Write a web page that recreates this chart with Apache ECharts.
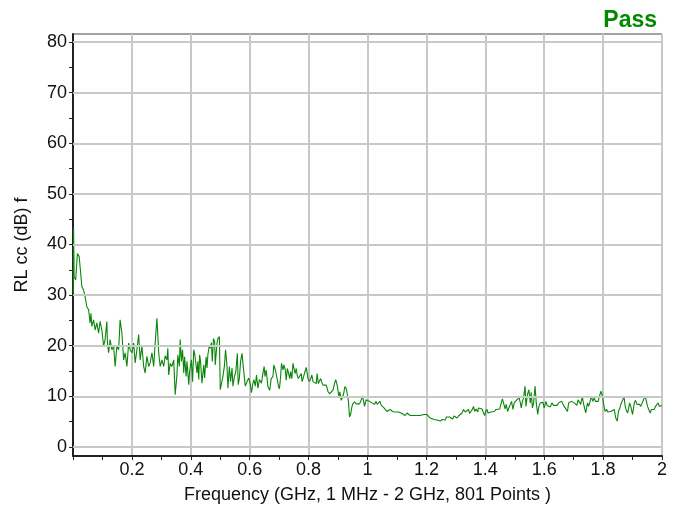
<!DOCTYPE html>
<html>
<head>
<meta charset="utf-8">
<script src="https://cdn.jsdelivr.net/npm/echarts@6/dist/echarts.min.js"></script>
<style>
  html, body { margin: 0; padding: 0; background: #fff; }
  #chart { width: 684px; height: 517px; }
</style>
</head>
<body>
<div id="chart"></div>
<script>
// Return-loss trace (frequency in GHz, RL in dB), in segments
const freqA = [
  0.001,0.002,0.004,0.009,0.015,0.021,0.025,0.030,0.036,0.041,
  0.047,0.053,0.058,0.061,0.064,0.070,0.075,0.081,0.087,0.092,
  0.098,0.104,0.109,0.115,0.117,0.121,0.126,0.132,0.138,0.143,
  0.149,0.155,0.160,0.166,0.172,0.177,0.183,0.189,0.194,0.200,
  0.206,0.211,0.217,0.223,0.228,0.234,0.240,0.245,0.251,0.257,
  0.262,0.268,0.274,0.279,0.285,0.291,0.296,0.302,0.308,0.313
];
const rlA = [
  30.4,43.1,33.6,33.0,38.2,37.6,35.0,31.7,31.0,29.7,
  27.7,27.1,24.5,26.4,23.8,25.1,23.1,24.5,22.5,24.8,
  23.1,19.9,21.2,24.8,20.5,18.6,21.2,19.2,19.9,15.9,
  19.9,19.2,25.1,22.5,17.2,18.6,15.9,20.5,19.2,18.6,
  20.5,16.6,19.2,22.2,17.2,19.9,15.9,14.6,17.9,15.9,
  16.6,18.6,15.9,20.5,25.4,18.6,15.9,17.2,15.9,18.0
];
const freqB = [
  0.319,0.322,0.325,0.330,0.336,0.342,0.347,0.353,0.356,0.361,
  0.364,0.368,0.372,0.376,0.379,0.384,0.387,0.393,0.396,0.402,
  0.406,0.410,0.413,0.418,0.421,0.424,0.427,0.430,0.433,0.438,
  0.444,0.447,0.452,0.455,0.458,0.463,0.466,0.470,0.473,0.477,
  0.481,0.483,0.489,0.492,0.497,0.500,0.506,0.509,0.514,0.518,
  0.523,0.526,0.531,0.535,0.540,0.543,0.548,0.553,0.558,0.561,
  0.565,0.569,0.574,0.577,0.581,0.585,0.591,0.597,0.602,0.606,
  0.610,0.614,0.619,0.623,0.628,0.633,0.640,0.644,0.649
];
const rlB = [
  17.2,19.5,14.2,16.5,15.9,17.2,10.3,14.2,18.2,15.9,
  21.2,16.9,19.2,14.6,17.8,13.9,16.9,12.3,14.9,17.2,
  12.9,19.2,18.5,18.8,14.6,16.9,13.3,18.2,16.9,12.6,
  16.2,13.6,17.8,15.6,18.2,20.1,19.5,20.6,16.9,21.4,
  20.8,16.2,20.5,21.4,21.8,11.3,11.0,13.9,15.9,19.2,
  15.9,11.6,15.9,12.9,15.6,12.0,13.9,14.9,18.5,12.3,
  13.6,16.9,18.5,16.5,16.2,12.0,12.9,13.6,12.3,10.7,
  12.3,13.3,12.0,14.2,11.6,13.3,12.6,14.2,15.9
];
const freqC = [
  0.652,0.656,0.662,0.668,0.673,0.679,0.682,0.687,0.690,0.694,
  0.698,0.701,0.705,0.708,0.713,0.716,0.721,0.724,0.728,0.732,
  0.736,0.739,0.743,0.747,0.750,0.754,0.758,0.761,0.765,0.769,
  0.775,0.778,0.783,0.788,0.792,0.798,0.803,0.807,0.811,0.815,
  0.820,0.826,0.829,0.833,0.837,0.841,0.844,0.849,0.854,0.860,
  0.866,0.871,0.877,0.883,0.888,0.892,0.897,0.903,0.906,0.911,
  0.914,0.919,0.923,0.928,0.931,0.935,0.939,0.943,0.947,0.950,
  0.956,0.962,0.967,0.973
];
const rlC = [
  13.9,15.2,11.9,11.2,13.5,13.9,16.2,15.2,15.5,13.2,
  11.9,11.5,13.9,16.5,15.2,16.2,15.2,13.2,15.5,15.2,
  13.5,14.9,13.5,16.5,16.7,14.5,15.5,14.2,13.5,13.2,
  14.5,12.9,13.9,14.9,15.7,13.5,12.9,13.5,14.2,12.9,
  13.2,12.5,14.5,12.5,12.2,13.5,12.9,12.2,11.9,12.2,
  10.9,10.5,10.2,11.2,12.5,13.3,12.2,9.9,10.9,9.2,
  9.5,10.5,11.9,11.5,10.5,9.2,5.9,6.5,7.9,8.5,
  8.9,8.5,8.2,8.5
];
const freqD = [
  0.975,0.979,0.983,0.987,0.990,0.995,0.998,1.001,1.006,1.010,
  1.015,1.021,1.024,1.029,1.033,1.038,1.042,1.047,1.051,1.056,
  1.060,1.066,1.072,1.077,1.081,1.085,1.090,1.094,1.100,1.106,
  1.111,1.117,1.123,1.128,1.134,1.140,1.145,1.151,1.157,1.162,
  1.168,1.174,1.179,1.185,1.191,1.196,1.202,1.208,1.213,1.219,
  1.225,1.230,1.236,1.242,1.247,1.251,1.255,1.259,1.264,1.268,
  1.273,1.279,1.285,1.289,1.294,1.298
];
const rlD = [
  8.2,9.3,10.1,9.0,8.0,9.3,9.0,9.2,9.0,9.3,
  8.7,9.0,8.4,9.0,8.4,8.7,9.0,8.2,8.0,7.7,
  7.4,7.0,6.9,7.4,7.7,7.0,7.0,6.9,7.0,6.9,
  6.6,6.6,6.4,6.2,6.7,6.4,6.2,6.2,6.2,6.1,
  6.2,5.9,6.2,6.2,6.4,6.6,6.4,6.1,5.7,5.5,
  5.4,5.4,5.3,5.4,5.1,4.8,5.4,5.5,5.3,5.9,
  5.7,5.9,6.2,5.5,6.1,6.4
];
const freqE = [
  1.304,1.309,1.315,1.321,1.326,1.332,1.338,1.343,1.347,1.351,
  1.356,1.360,1.364,1.369,1.374,1.377,1.383,1.389,1.394,1.398,
  1.401,1.406,1.409,1.415,1.419,1.425,1.431,1.436,1.442,1.449,
  1.453,1.458,1.462,1.467,1.471,1.476,1.480,1.485,1.489,1.494,
  1.498,1.503,1.507,1.511,1.515,1.519,1.522,1.526,1.530,1.535,
  1.538,1.543,1.548,1.553,1.556,1.560,1.564,1.569,1.573,1.578,
  1.582,1.587,1.591,1.596,1.600,1.606,1.610,1.616,1.621,1.626,
  1.632,1.638,1.643,1.649,1.655
];
const rlE = [
  5.7,6.1,6.2,6.7,7.4,6.9,6.7,7.4,6.6,7.0,
  7.4,8.0,7.0,7.5,6.9,7.7,7.4,7.5,6.7,6.2,
  7.0,7.4,6.7,7.0,6.9,7.2,7.0,7.4,7.2,7.5,
  8.4,9.5,8.7,7.5,8.4,7.0,7.7,8.4,9.0,7.4,
  8.7,8.4,9.3,9.0,9.7,8.7,7.7,9.0,9.7,12.0,
  8.0,10.3,11.3,8.7,10.8,7.7,8.7,12.0,8.7,6.4,
  8.0,8.7,8.4,8.8,7.7,9.0,8.2,8.4,7.9,8.7,
  8.2,8.4,8.2,8.7,9.0
];
const freqF = [
  1.659,1.663,1.668,1.673,1.679,1.683,1.688,1.693,1.697,1.702,
  1.706,1.711,1.715,1.720,1.724,1.729,1.733,1.738,1.741,1.747,
  1.751,1.756,1.760,1.765,1.770,1.774,1.779,1.783,1.789,1.793,
  1.798,1.804,1.807,1.812,1.816,1.821,1.826,1.832,1.838,1.843,
  1.848,1.852,1.857,1.862,1.867,1.871,1.875,1.878,1.883,1.886,
  1.890,1.894,1.900,1.906,1.910,1.915,1.919,1.924,1.928,1.933,
  1.937,1.942,1.946,1.951,1.955,1.960,1.964,1.969,1.973,1.978,
  1.982,1.987,1.991,1.996,2.000
];
const rlF = [
  9.0,8.7,8.0,7.7,7.0,8.7,8.4,9.0,9.3,8.7,
  9.0,8.2,9.3,9.0,8.4,10.0,8.7,7.4,6.7,8.7,
  8.0,9.0,10.0,9.0,9.7,9.0,9.3,9.0,10.3,11.0,
  10.0,7.7,7.0,7.4,6.9,7.2,7.0,6.7,7.4,5.7,
  5.1,7.0,7.7,8.7,9.3,10.0,8.0,7.4,6.7,7.4,
  8.7,8.0,6.4,8.7,9.2,8.4,8.7,8.4,8.0,8.7,
  8.4,10.0,9.3,8.0,7.4,6.7,7.4,7.7,7.4,8.0,
  7.7,8.7,8.0,8.0,8.2
];

const yGridValues = [0, 10, 20, 30, 40, 50, 60, 70, 80];
const yTickValues = [0, 5, 10, 15, 20, 25, 30, 35, 40, 45, 50, 55, 60, 65, 70, 75, 80];
const xTickLabels = [0.2, 0.4, 0.6, 0.8, 1, 1.2, 1.4, 1.6, 1.8, 2];

const freqAll = [].concat(freqA, freqB, freqC, freqD, freqE, freqF);
const rlAll = [].concat(rlA, rlB, rlC, rlD, rlE, rlF);
const seriesData = freqAll.map((f, i) => [f, rlAll[i]]);

const FONT = '"Liberation Sans", Arial, sans-serif';
const chart = echarts.init(document.getElementById('chart'), null, { renderer: 'canvas' });
chart.setOption({
  animation: false,
  backgroundColor: '#ffffff',
  title: {
    text: 'Pass',
    right: 22, top: 4,
    textStyle: { color: '#008a00', fontSize: 23, fontWeight: 'bold', fontFamily: FONT }
  },
  grid: {
    left: 73, right: 22, top: 34, bottom: 61,
    show: true, borderColor: '#444', borderWidth: 1, backgroundColor: '#fff'
  },
  xAxis: {
    type: 'value', min: 0, max: 2, interval: 0.2,
    name: 'Frequency (GHz, 1 MHz - 2 GHz, 801 Points )',
    nameLocation: 'middle', nameGap: 30,
    nameTextStyle: { color: '#111', fontSize: 18, fontFamily: FONT },
    axisLine: { show: true, onZero: false, lineStyle: { color: '#222', width: 2 } },
    axisTick: { show: true, inside: false, length: 4, lineStyle: { color: '#222' } },
    minorTick: { show: true, splitNumber: 2, length: 4, lineStyle: { color: '#222' } },
    axisLabel: {
      margin: 5, color: '#111', fontSize: 18, fontFamily: FONT,
      formatter: v => (xTickLabels.some(t => Math.abs(t - v) < 1e-6) ? String(+v.toFixed(1)) : '')
    },
    splitLine: { show: true, lineStyle: { color: '#c8c8c8', width: 2 } }
  },
  yAxis: {
    type: 'value', min: -1.8, max: 81.6,
    name: 'RL cc (dB) f',
    nameLocation: 'middle', nameGap: 42, nameRotate: 90,
    nameTextStyle: { color: '#111', fontSize: 18, fontFamily: FONT },
    axisLine: { show: true, lineStyle: { color: '#222', width: 2 } },
    axisTick: { show: true, inside: false, length: 4, customValues: yTickValues, lineStyle: { color: '#222' } },
    axisLabel: { margin: 6, color: '#111', fontSize: 18, fontFamily: FONT, customValues: yGridValues },
    splitLine: { show: false }
  },
  series: [
    {
      type: 'line', data: [], silent: true, z: 1,
      markLine: {
        silent: true, symbol: 'none', animation: false,
        label: { show: false },
        lineStyle: { color: '#c8c8c8', width: 2, type: 'solid' },
        data: yGridValues.map(v => ({ yAxis: v }))
      }
    },
    {
      type: 'line', data: seriesData, z: 3,
      showSymbol: false, symbol: 'none',
      lineStyle: { color: '#0a870a', width: 1.1 },
      itemStyle: { color: '#0a870a' }
    }
  ]
});
</script>
</body>
</html>
